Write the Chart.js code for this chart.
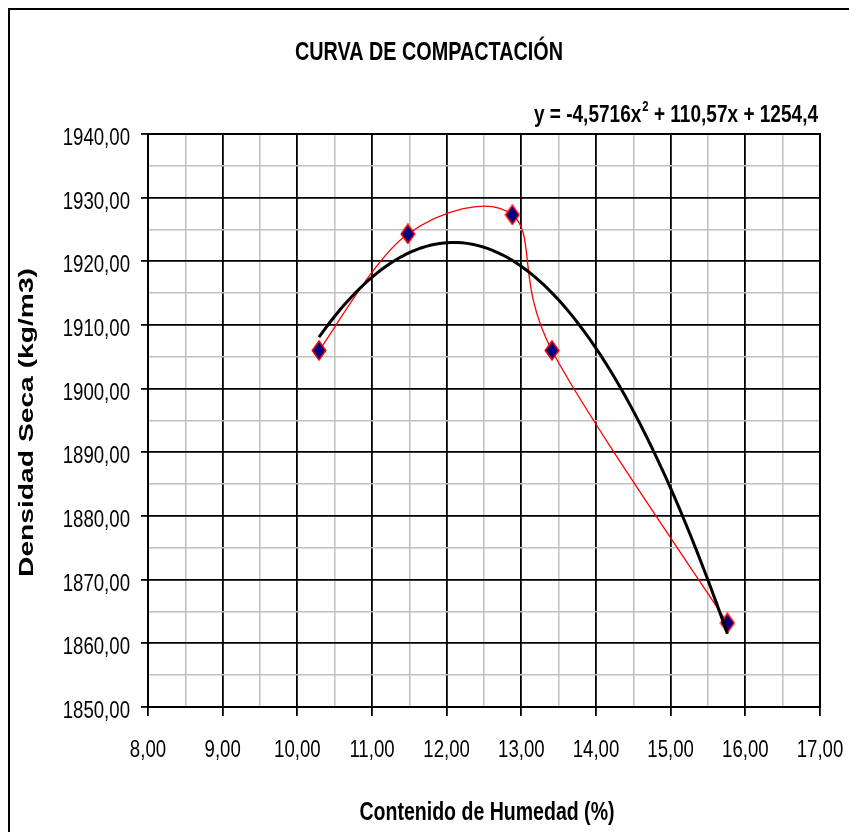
<!DOCTYPE html>
<html>
<head>
<meta charset="utf-8">
<script src="https://cdn.jsdelivr.net/npm/chart.js@4.4.1/dist/chart.umd.min.js"></script>
<style>
  html, body { margin: 0; padding: 0; background: #ffffff; }
  #wrap { width: 849px; height: 832px; position: relative; }
</style>
</head>
<body>
<div id="wrap"><canvas id="chart" width="849" height="832"></canvas></div>
<script>
// Ensayo Proctor: contenido de humedad (%) y densidad seca (kg/m3)
const humedad = [10.29, 11.48, 12.88, 13.41, 15.76];
const densidadSeca = [1906.0, 1924.3, 1927.3, 1906.0, 1863.2];

// Línea de tendencia polinómica de grado 2: y = a·x² + b·x + c
const trendCoef = [-4.5716, 110.57, 1254.4];
const trendLabel = ['y = -4,5716x', '2', ' + 110,57x + 1254,4'];

// Ejes
const xTicks = [8, 9, 10, 11, 12, 13, 14, 15, 16, 17];
const yTicks = [1850, 1860, 1870, 1880, 1890, 1900, 1910, 1920, 1930, 1940];

const titulo = 'CURVA DE COMPACTACIÓN';
const tituloX = 'Contenido de Humedad (%)';
const tituloY = 'Densidad Seca (kg/m3)';

const SANS = '"Liberation Sans", Arial, sans-serif';
// letra estrecha: Liberation Sans comprimida en horizontal
const NARROW_SX = 0.81;

const fmt = v => v.toFixed(2).replace('.', ',');

// Curva de tendencia evaluada sobre el rango de los datos
const xMin = Math.min(...humedad), xMax = Math.max(...humedad);
const trendPts = [];
const nSeg = 80;
for (let i = 0; i <= nSeg; i++) {
  const x = xMin + (xMax - xMin) * i / nSeg;
  trendPts.push({ x, y: trendCoef[0] * x * x + trendCoef[1] * x + trendCoef[2] });
}

const ensayo = humedad.map((x, i) => ({ x, y: densidadSeca[i] }));

const isMajor = (v, step) => Math.abs(v / step - Math.round(v / step)) < 1e-6;

// Marcador: rombo azul marino con borde rojo, algo más alto que ancho
function diamondMarker() {
  const w = 16, h = 21;
  const c = document.createElement('canvas');
  c.width = w; c.height = h;
  const g = c.getContext('2d');
  g.beginPath();
  g.moveTo(w / 2, 1);
  g.lineTo(w - 1.2, h / 2);
  g.lineTo(w / 2, h - 1);
  g.lineTo(1.2, h / 2);
  g.closePath();
  g.fillStyle = '#000080';
  g.fill();
  g.strokeStyle = '#ff0000';
  g.lineWidth = 1.5;
  g.stroke();
  return c;
}

// Texto con escala horizontal (sx) o ajustado a un ancho dado
function drawText(ctx, text, x, y, font, align, sx, width) {
  ctx.save();
  ctx.font = font;
  const w = ctx.measureText(text).width;
  const s = width ? width / w : sx;
  ctx.translate(x, y);
  ctx.scale(s, 1);
  ctx.textAlign = align;
  ctx.textBaseline = 'alphabetic';
  ctx.fillText(text, 0, 0);
  ctx.restore();
  return w * s;
}

// Suavizado tipo hoja de cálculo: tangente (P[i+1] - P[i-1]) / 6 en cada punto
const smoothLine = {
  id: 'smoothLine',
  beforeDatasetDraw(chart, args) {
    if (args.index !== 1) return;
    const meta = args.meta;
    const pts = meta.data;
    const n = pts.length;
    for (let i = 0; i < n; i++) {
      const prev = pts[Math.max(i - 1, 0)];
      const next = pts[Math.min(i + 1, n - 1)];
      const tx = (next.x - prev.x) / 6;
      const ty = (next.y - prev.y) / 6;
      pts[i].cp1x = pts[i].x - tx;
      pts[i].cp1y = pts[i].y - ty;
      pts[i].cp2x = pts[i].x + tx;
      pts[i].cp2y = pts[i].y + ty;
    }
    meta.dataset._pointsUpdated = true;
    meta.dataset._path = undefined;
  }
};

// Etiquetas de las marcas de los ejes
const tickLabels = {
  id: 'tickLabels',
  afterDraw(chart) {
    const ctx = chart.ctx;
    const xs = chart.scales.x, ys = chart.scales.y;
    const f = '23px ' + SANS;
    ctx.save();
    ctx.fillStyle = '#000';
    xTicks.forEach(v => drawText(ctx, fmt(v), xs.getPixelForValue(v), 757, f, 'center', NARROW_SX));
    yTicks.forEach(v => drawText(ctx, fmt(v), 130, ys.getPixelForValue(v) + 11, f, 'right', NARROW_SX));
    ctx.restore();
  }
};

// Marco exterior, título, ecuación y títulos de los ejes
const decor = {
  id: 'decor',
  afterDraw(chart) {
    const ctx = chart.ctx;
    ctx.save();
    ctx.strokeStyle = '#000';
    ctx.lineWidth = 2;
    ctx.beginPath();
    ctx.moveTo(9, 840);
    ctx.lineTo(9, 9);
    ctx.lineTo(860, 9);
    ctx.stroke();

    ctx.fillStyle = '#000';

    // título
    drawText(ctx, titulo, 429, 60, 'bold 26px ' + SANS, 'center', 0, 268);

    // ecuación de la tendencia, alineada a la derecha
    const fBig = 'bold 23.5px ' + SANS;
    const fSup = 'bold 14px ' + SANS;
    ctx.font = fBig;
    const w0 = ctx.measureText(trendLabel[0]).width * NARROW_SX;
    const w2 = ctx.measureText(trendLabel[2]).width * NARROW_SX;
    ctx.font = fSup;
    const w1 = ctx.measureText(trendLabel[1]).width * NARROW_SX;
    let x = 818 - (w0 + w1 + w2 + 1);
    const base = 122;
    drawText(ctx, trendLabel[0], x, base, fBig, 'left', NARROW_SX);
    x += w0 + 1;
    drawText(ctx, trendLabel[1], x, base - 11, fSup, 'left', NARROW_SX);
    x += w1;
    drawText(ctx, trendLabel[2], x, base, fBig, 'left', NARROW_SX);

    // título eje X
    drawText(ctx, tituloX, 487, 820, 'bold 25px ' + SANS, 'center', 0, 255);

    // título eje Y (vertical)
    ctx.translate(33, 422.5);
    ctx.rotate(-Math.PI / 2);
    drawText(ctx, tituloY, 0, 0, 'bold 20px ' + SANS, 'center', 0, 309);
    ctx.restore();
  }
};

// Borde del área de trazado
const plotBorder = {
  id: 'plotBorder',
  afterDatasetsDraw(chart) {
    const { ctx, chartArea: a } = chart;
    ctx.save();
    ctx.strokeStyle = '#000';
    ctx.lineWidth = 2;
    ctx.strokeRect(a.left, a.top, a.right - a.left, a.bottom - a.top);
    ctx.restore();
  }
};

new Chart(document.getElementById('chart'), {
  type: 'scatter',
  data: {
    datasets: [
      {
        label: 'Tendencia',
        data: trendPts,
        showLine: true,
        borderColor: '#000000',
        borderWidth: 3,
        pointRadius: 0,
        tension: 0,
        order: 0
      },
      {
        label: 'Ensayo',
        data: ensayo,
        showLine: true,
        borderColor: '#ff0000',
        borderWidth: 1.3,
        tension: 0.4,
        pointStyle: diamondMarker(),
        pointRadius: 8,
        pointHoverRadius: 8,
        order: 1
      }
    ]
  },
  options: {
    responsive: false,
    animation: false,
    layout: { padding: { left: 9, right: 29, top: 134, bottom: 0 } },
    plugins: {
      legend: { display: false },
      title: { display: false },
      tooltip: { enabled: false }
    },
    scales: {
      x: {
        type: 'linear',
        min: xTicks[0],
        max: xTicks[xTicks.length - 1],
        afterFit(scale) { scale.height = 125; },
        afterBuildTicks(scale) {
          const t = [];
          for (let v = xTicks[0]; v <= xTicks[xTicks.length - 1] + 1e-9; v += 0.5) t.push({ value: v });
          scale.ticks = t;
        },
        border: { display: false },
        grid: {
          color: c => isMajor(c.tick.value, 1) ? '#000000' : '#c0c0c0',
          lineWidth: c => isMajor(c.tick.value, 1) ? 1.8 : 1.5,
          tickColor: c => isMajor(c.tick.value, 1) ? '#000000' : 'rgba(0,0,0,0)',
          tickLength: 9,
          tickWidth: 1.8
        },
        ticks: { display: false }
      },
      y: {
        type: 'linear',
        min: yTicks[0],
        max: yTicks[yTicks.length - 1],
        afterFit(scale) { scale.width = 139; },
        afterBuildTicks(scale) {
          const t = [];
          for (let v = yTicks[0]; v <= yTicks[yTicks.length - 1] + 1e-9; v += 5) t.push({ value: v });
          scale.ticks = t;
        },
        border: { display: false },
        grid: {
          color: c => isMajor(c.tick.value, 10) ? '#000000' : '#c0c0c0',
          lineWidth: c => isMajor(c.tick.value, 10) ? 1.8 : 1.5,
          tickColor: c => isMajor(c.tick.value, 10) ? '#000000' : 'rgba(0,0,0,0)',
          tickLength: 7,
          tickWidth: 1.8
        },
        ticks: { display: false }
      }
    }
  },
  plugins: [smoothLine, plotBorder, tickLabels, decor]
});
</script>
</body>
</html>
